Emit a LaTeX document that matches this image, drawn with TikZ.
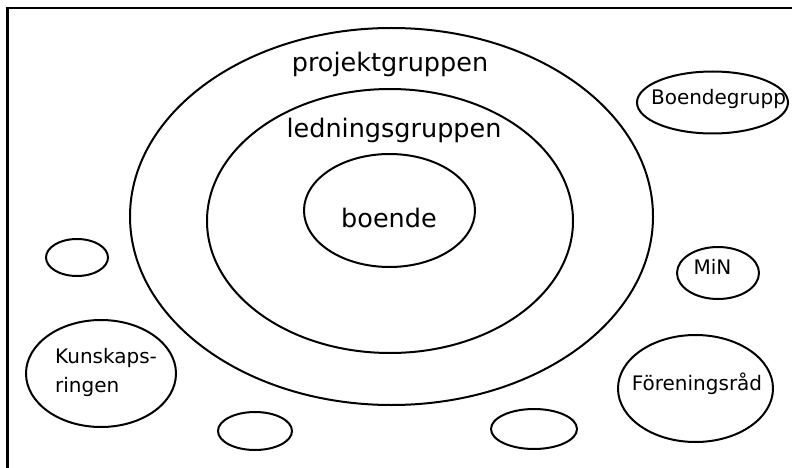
\documentclass[tikz,border=0pt]{standalone}
\usepackage{fontspec}
\setmainfont{DejaVu Sans}
\usetikzlibrary{shapes.geometric}
\begin{document}
\begin{tikzpicture}[x=1pt,y=-1pt,
  ring/.style={draw, line width=2pt, ellipse, inner sep=0pt},
  bigtext/.style={inner sep=0pt, anchor=base, font=\fontsize{25.5}{30}\selectfont},
  smalltext/.style={inner sep=0pt, anchor=base, font=\fontsize{20}{24}\selectfont},
  frameline/.style={line width=2.5pt}]
\useasboundingbox (0,0) rectangle (792,468);
% frame
\coordinate (fbl) at (7.5,470);
\coordinate (ftl) at (7.5,8);
\coordinate (ftr) at (794,8);
\draw[frameline] (fbl) -- (ftl) -- (ftr);
% concentric ellipses
\node[ring, minimum width=523pt, minimum height=377pt] (outer) at (391.5,216.5) {};
\node[ring, minimum width=366pt, minimum height=264pt] (middle) at (390,221) {};
\node[ring, minimum width=171pt, minimum height=113pt] (inner) at (389.5,210.5) {};
\node[bigtext] (tproj) at (390,72) {projektgruppen};
\node[bigtext] (tled) at (394,138) {ledningsgruppen};
\node[bigtext] (tboende) at (389,227) {boende};
% satellites
\node[ring, minimum width=151pt, minimum height=62pt] (boendegrupp) at (712.5,102.5) {};
\node[smalltext] (tboendegrupp) at (718.5,105) {Boendegrupp};
\node[ring, minimum width=82pt, minimum height=52pt] (min) at (718,273) {};
\node[smalltext] (tmin) at (712.5,274) {MiN};
\node[ring, minimum width=155pt, minimum height=107pt] (forening) at (695.5,388.5) {};
\node[smalltext] (tforening) at (697,390) {Föreningsråd};
\node[ring, minimum width=150pt, minimum height=107pt] (kunskap) at (101,373.5) {};
\node[smalltext, anchor=base west] (tkunskap1) at (55,363) {Kunskaps-};
\node[smalltext, anchor=base west] (tkunskap2) at (55,392) {ringen};
\node[ring, minimum width=62pt, minimum height=37pt] (emptyleft) at (77,257.5) {};
\node[ring, minimum width=74pt, minimum height=38pt] (emptybl) at (255,431) {};
\node[ring, minimum width=86pt, minimum height=40pt] (emptybr) at (534,429) {};
\end{tikzpicture}
\end{document}
